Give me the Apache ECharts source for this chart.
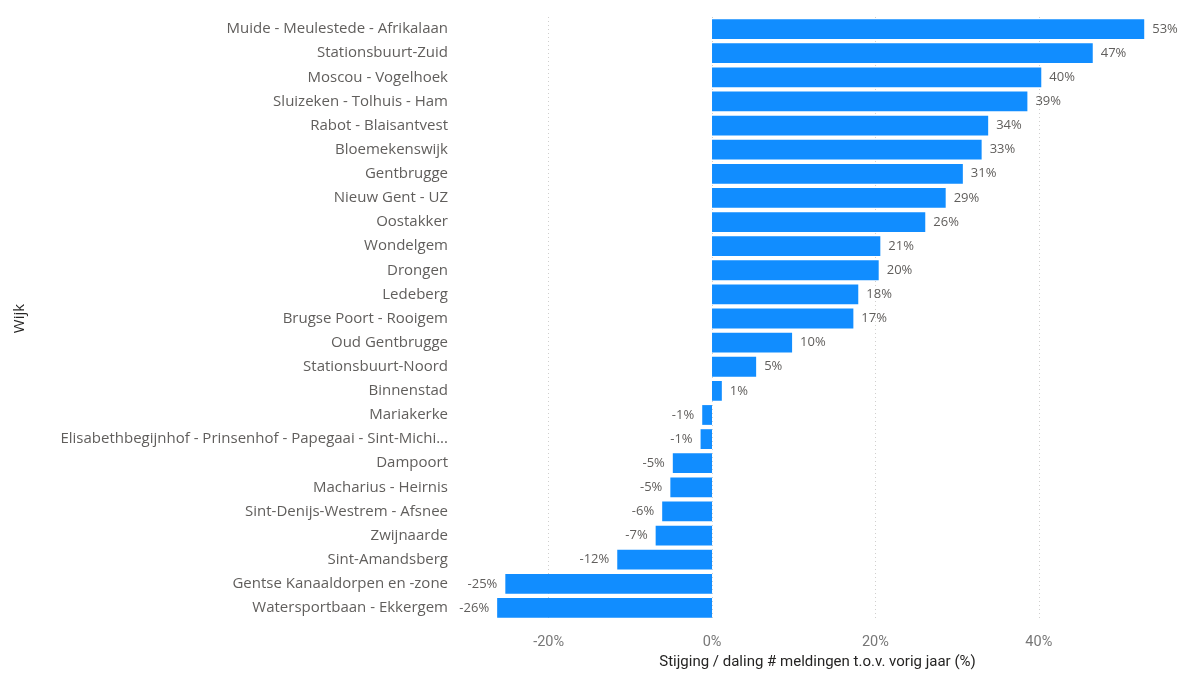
<!DOCTYPE html>
<html>
<head>
<meta charset="utf-8">
<script src="https://cdn.jsdelivr.net/npm/echarts@6/dist/echarts.min.js"></script>
<style>
html,body{margin:0;padding:0;background:#fff;}
#chart{width:1180px;height:675px;}
</style>
</head>
<body>
<div id="chart"></div>
<script>
const categories = [
  "Muide - Meulestede - Afrikalaan",
  "Stationsbuurt-Zuid",
  "Moscou - Vogelhoek",
  "Sluizeken - Tolhuis - Ham",
  "Rabot - Blaisantvest",
  "Bloemekenswijk",
  "Gentbrugge",
  "Nieuw Gent - UZ",
  "Oostakker",
  "Wondelgem",
  "Drongen",
  "Ledeberg",
  "Brugse Poort - Rooigem",
  "Oud Gentbrugge",
  "Stationsbuurt-Noord",
  "Binnenstad",
  "Mariakerke",
  "Elisabethbegijnhof - Prinsenhof - Papegaai - Sint-Michiels",
  "Dampoort",
  "Macharius - Heirnis",
  "Sint-Denijs-Westrem - Afsnee",
  "Zwijnaarde",
  "Sint-Amandsberg",
  "Gentse Kanaaldorpen en -zone",
  "Watersportbaan - Ekkergem"
];
const changePct = [
  52.9, 46.6, 40.3, 38.6, 33.8, 33.0, 30.7, 28.6, 26.1, 20.6, 20.4, 17.9, 17.3,
  9.8, 5.4, 1.2, -1.2, -1.4, -4.8, -5.1, -6.1, -6.9, -11.6, -25.3, -26.3
];
const xAxisTitle = "Stijging / daling # meldingen t.o.v. vorig jaar (%)";
const yAxisTitle = "Wijk";

const labelColor = "#605E5C";
const chart = echarts.init(document.getElementById("chart"), null, {renderer: "canvas"});
const seriesData = changePct.map(v => ({
  value: v,
  label: {position: v < 0 ? "left" : "right"}
}));
chart.setOption({
  animation: false,
  grid: {left: 455, right: 0, top: 17, bottom: 51, containLabel: false},
  xAxis: {
    type: "value",
    min: -31.46,
    max: 57.28,
    splitNumber: 5,
    name: xAxisTitle,
    nameLocation: "middle",
    nameGap: 35,
    nameTextStyle: {color: "#252423", fontSize: 15, fontFamily: "Roboto"},
    axisLine: {show: false},
    axisTick: {show: false},
    axisLabel: {
      color: "#777", fontSize: 14.5, fontFamily: "Roboto", margin: 15,
      showMinLabel: false, showMaxLabel: false,
      formatter: v => v + "%"
    },
    splitLine: {
      show: true, showMinLine: false, showMaxLine: false,
      lineStyle: {color: "#D0CFCE", type: [1, 3], width: 1}
    }
  },
  yAxis: {
    type: "category",
    data: categories,
    inverse: true,
    name: yAxisTitle,
    nameLocation: "middle",
    nameGap: 428,
    nameRotate: 90,
    nameTextStyle: {color: "#252423", fontSize: 15, fontFamily: "Open Sans"},
    axisLine: {show: false},
    axisTick: {show: false},
    axisLabel: {
      color: labelColor, fontSize: 15, fontFamily: "Open Sans", margin: 7,
      width: 396, overflow: "truncate", ellipsis: "..."
    },
    splitLine: {show: false}
  },
  series: [{
    type: "bar",
    data: seriesData,
    barCategoryGap: "18%",
    itemStyle: {color: "#118DFF"},
    label: {
      show: true,
      color: labelColor,
      fontSize: 13,
      fontFamily: "Open Sans",
      distance: 8,
      formatter: p => Math.round(p.value) + "%"
    }
  }]
});
</script>
</body>
</html>
